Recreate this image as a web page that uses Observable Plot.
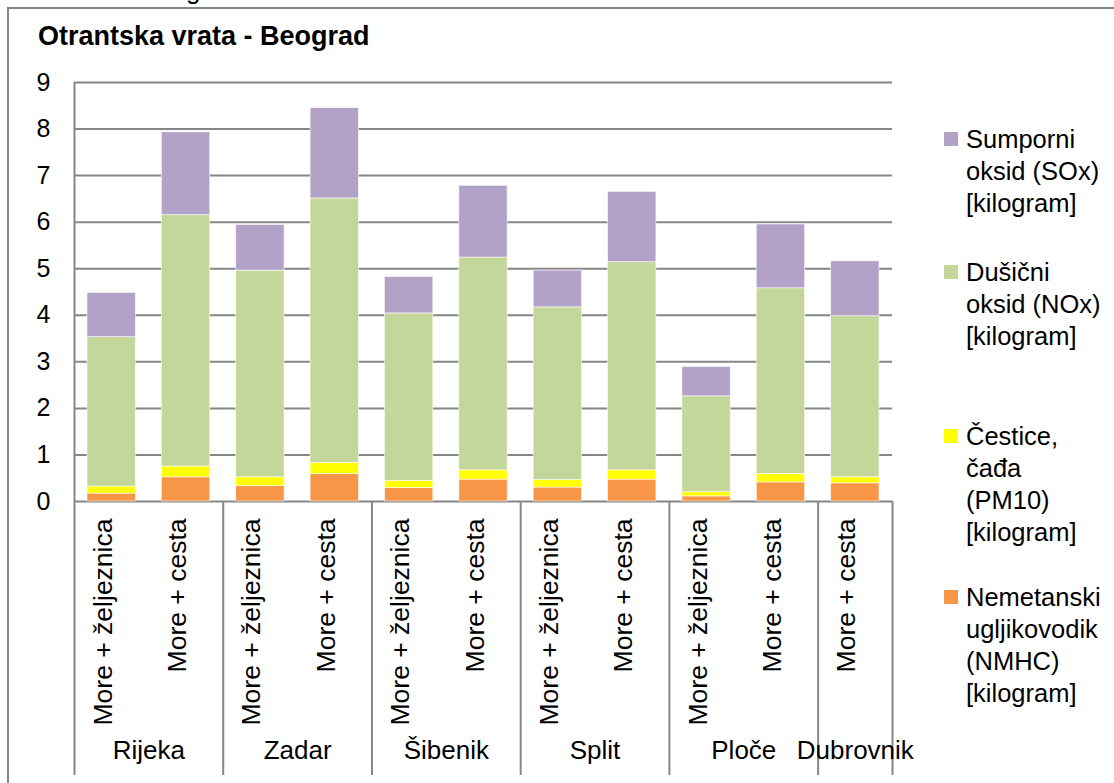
<!DOCTYPE html>
<html>
<head>
<meta charset="utf-8">
<script src="https://cdn.jsdelivr.net/npm/d3@7"></script>
<script src="https://cdn.jsdelivr.net/npm/@observablehq/plot@0.6"></script>
<style>
  html, body { margin: 0; padding: 0; background: #fff; }
  #wrap { position: relative; width: 1114px; height: 783px; overflow: hidden; font-family: "Liberation Sans", Arial, sans-serif; }
  #frameL { position: absolute; left: 7px; top: 7px; width: 2px; height: 800px; background: #868686; }
  #frameT { position: absolute; left: 7px; top: 7px; width: 1120px; height: 2px; background: #868686; }
  #title { position: absolute; left: 38px; top: 21px; font-size: 27px; font-weight: bold; line-height: 30px; color: #000; white-space: nowrap; }
  #clip { position: absolute; left: 186px; top: -25px; font-size: 26px; line-height: 30px; color: #000; }
  #chart { position: absolute; left: 0; top: 0; }
  .leg { position: absolute; left: 944px; }
  .leg .sw { position: absolute; left: 0; top: 9px; width: 14px; height: 14px; }
  .leg .tx { position: absolute; left: 22px; top: 0; font-size: 25.5px; line-height: 32px; color: #000; white-space: nowrap; }
</style>
</head>
<body>
<div id="wrap">
  <div id="chart"></div>
  <div id="frameL"></div>
  <div id="frameT"></div>
  <div id="clip">g</div>
  <div id="title"></div>
  <div id="legend"></div>
</div>
<script>
// ---- data ----
const title = "Otrantska vrata - Beograd";
const groups = ["Rijeka", "Rijeka", "Zadar", "Zadar", "Šibenik", "Šibenik", "Split", "Split", "Ploče", "Ploče", "Dubrovnik"];
const modes = ["More + željeznica", "More + cesta", "More + željeznica", "More + cesta", "More + željeznica", "More + cesta", "More + željeznica", "More + cesta", "More + željeznica", "More + cesta", "More + cesta"];
// stacked from bottom: NMHC, PM10, NOx, SOx
const nmhc = [0.17, 0.52, 0.33, 0.59, 0.29, 0.47, 0.30, 0.47, 0.11, 0.41, 0.39];
const pm10 = [0.15, 0.23, 0.19, 0.24, 0.15, 0.20, 0.16, 0.20, 0.09, 0.18, 0.13];
const nox  = [3.21, 5.40, 4.44, 5.68, 3.60, 4.57, 3.71, 4.47, 2.06, 3.99, 3.46];
const sox  = [0.95, 1.78, 0.98, 1.94, 0.78, 1.54, 0.79, 1.51, 0.63, 1.37, 1.18];
const seriesKeys = ["NMHC", "PM10", "NOx", "SOx"];
const seriesValues = [nmhc, pm10, nox, sox];
const seriesColors = ["#F79646", "#FFFF00", "#C4D79B", "#B3A2C7"];
// legend order (top to bottom) and its lines
const legendKeys = ["SOx", "NOx", "PM10", "NMHC"];
const legendLines = [
  ["Sumporni", "oksid (SOx)", "[kilogram]"],
  ["Dušični", "oksid (NOx)", "[kilogram]"],
  ["Čestice,", "čađa", "(PM10)", "[kilogram]"],
  ["Nemetanski", "ugljikovodik", "(NMHC)", "[kilogram]"]
];
const legendTops = [123, 256, 420, 581];
const yTicks = [0, 1, 2, 3, 4, 5, 6, 7, 8, 9];

// ---- build tables ----
const segs = [];
modes.forEach((m, i) => {
  let acc = 0;
  seriesKeys.forEach((k, s) => {
    const v = seriesValues[s][i];
    segs.push({i, series: k, y1: acc, y2: acc + v});
    acc += v;
  });
});
const bars = modes.map((m, i) => ({i, mode: m, group: groups[i]}));
const groupNames = [...new Set(groups)];
const groupInfo = groupNames.map(g => {
  const idx = groups.map((d, i) => d === g ? i : -1).filter(i => i >= 0);
  return {group: g, start: d3.min(idx), end: d3.max(idx) + 1};
});
const seps = groupInfo.map(d => d.end); // right edges of each group

const colorOf = Object.fromEntries(seriesKeys.map((k, s) => [k, seriesColors[s]]));

const grid = "#868686";
const chart = Plot.plot({
  width: 1114,
  height: 783,
  marginLeft: 74,
  marginRight: 222,
  marginTop: 82,
  marginBottom: 282,
  x: {type: "linear", domain: [0, modes.length], axis: null},
  y: {domain: [0, 9], axis: null},
  style: {fontFamily: "'Liberation Sans', Arial, sans-serif", fontSize: "26px", background: "transparent", color: "#000"},
  marks: [
    Plot.ruleY(yTicks, {y: d => d, stroke: grid, strokeWidth: 2}),
    Plot.text(yTicks, {y: d => d, frameAnchor: "left", dx: -31, text: d => String(d), textAnchor: "middle", fill: "#000", fontSize: 25}),
    Plot.rect(segs, {x1: d => d.i, x2: d => d.i + 1, y1: "y1", y2: "y2", fill: d => colorOf[d.series], insetLeft: 13, insetRight: 13, stroke: "#fff", strokeWidth: 0.8, strokeOpacity: 0.7}),
    // y axis line extending down through the category area
    Plot.ruleX([0], {x: d => d, stroke: grid, strokeWidth: 2, insetBottom: -274}),
    // group separators below the baseline
    Plot.ruleX(seps, {x: d => d, y1: 0, y2: 0, stroke: grid, strokeWidth: 2, insetBottom: -274}),
    Plot.text(bars, {x: d => d.i + 0.5, frameAnchor: "bottom", text: "mode", rotate: -90, textAnchor: "end", dy: 17, fill: "#000", fontSize: 26.5}),
    Plot.text(groupInfo, {x: d => (d.start + d.end) / 2, frameAnchor: "bottom", text: "group", dy: 257, fill: "#000", fontSize: 26})
  ]
});
document.getElementById("chart").appendChild(chart);
document.getElementById("title").textContent = title;

const leg = document.getElementById("legend");
legendKeys.forEach((k, j) => {
  const item = document.createElement("div");
  item.className = "leg";
  item.style.top = legendTops[j] + "px";
  const sw = document.createElement("div");
  sw.className = "sw";
  sw.style.background = colorOf[k];
  const tx = document.createElement("div");
  tx.className = "tx";
  tx.innerHTML = legendLines[j].map(s => s.replace(/&/g, "&amp;").replace(/</g, "&lt;")).join("<br>");
  item.appendChild(sw);
  item.appendChild(tx);
  leg.appendChild(item);
});
</script>
</body>
</html>
